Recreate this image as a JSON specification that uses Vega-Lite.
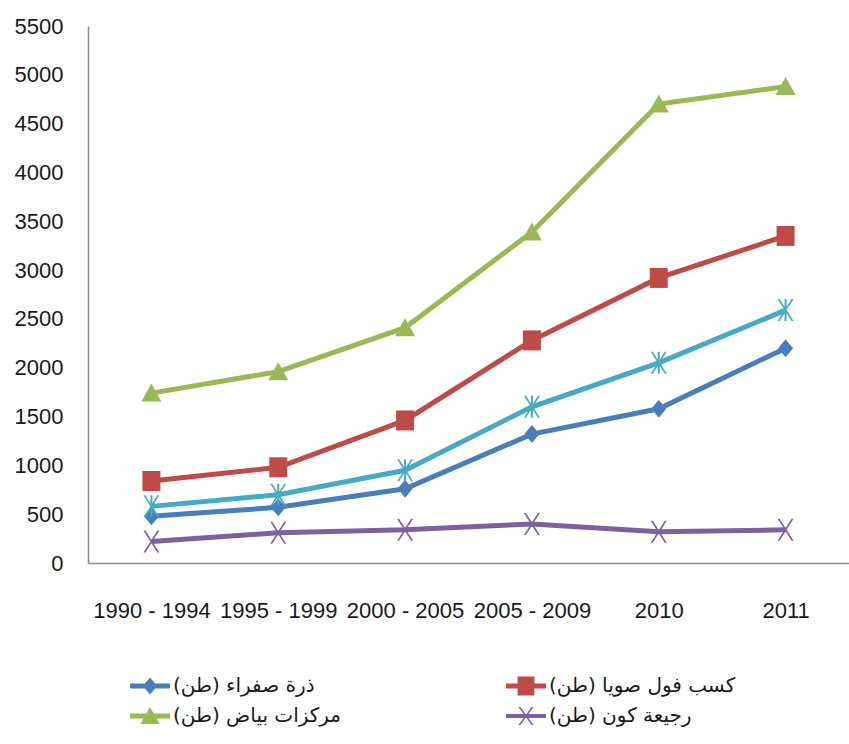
{
  "$schema": "https://vega.github.io/schema/vega-lite/v6.json",
  "width": 761,
  "height": 537,
  "autosize": {"type": "none"},
  "padding": {"left": 88, "top": 26, "right": 0, "bottom": 181},
  "background": "white",
  "config": {"view": {"stroke": null}, "font": "Liberation Sans Narrow, Liberation Sans, sans-serif"},
  "data": {
    "values": [
      {"period": "1990 - 1994", "series": "ذرة صفراء (طن)", "value": 480},
      {"period": "1995 - 1999", "series": "ذرة صفراء (طن)", "value": 570},
      {"period": "2000 - 2005", "series": "ذرة صفراء (طن)", "value": 760},
      {"period": "2005 - 2009", "series": "ذرة صفراء (طن)", "value": 1320},
      {"period": "2010", "series": "ذرة صفراء (طن)", "value": 1580},
      {"period": "2011", "series": "ذرة صفراء (طن)", "value": 2200},
      {"period": "1990 - 1994", "series": "كسب فول صويا (طن)", "value": 840},
      {"period": "1995 - 1999", "series": "كسب فول صويا (طن)", "value": 980},
      {"period": "2000 - 2005", "series": "كسب فول صويا (طن)", "value": 1460},
      {"period": "2005 - 2009", "series": "كسب فول صويا (طن)", "value": 2280},
      {"period": "2010", "series": "كسب فول صويا (طن)", "value": 2920},
      {"period": "2011", "series": "كسب فول صويا (طن)", "value": 3350},
      {"period": "1990 - 1994", "series": "مركزات بياض (طن)", "value": 1740},
      {"period": "1995 - 1999", "series": "مركزات بياض (طن)", "value": 1960},
      {"period": "2000 - 2005", "series": "مركزات بياض (طن)", "value": 2410},
      {"period": "2005 - 2009", "series": "مركزات بياض (طن)", "value": 3390},
      {"period": "2010", "series": "مركزات بياض (طن)", "value": 4700},
      {"period": "2011", "series": "مركزات بياض (طن)", "value": 4880},
      {"period": "1990 - 1994", "series": "رجيعة كون (طن)", "value": 220},
      {"period": "1995 - 1999", "series": "رجيعة كون (طن)", "value": 310},
      {"period": "2000 - 2005", "series": "رجيعة كون (طن)", "value": 340},
      {"period": "2005 - 2009", "series": "رجيعة كون (طن)", "value": 400},
      {"period": "2010", "series": "رجيعة كون (طن)", "value": 320},
      {"period": "2011", "series": "رجيعة كون (طن)", "value": 340},
      {"period": "1990 - 1994", "series": "السلسلة 5", "value": 580},
      {"period": "1995 - 1999", "series": "السلسلة 5", "value": 700},
      {"period": "2000 - 2005", "series": "السلسلة 5", "value": 950},
      {"period": "2005 - 2009", "series": "السلسلة 5", "value": 1600},
      {"period": "2010", "series": "السلسلة 5", "value": 2050},
      {"period": "2011", "series": "السلسلة 5", "value": 2590}
    ]
  },
  "encoding": {
    "x": {
      "field": "period",
      "type": "nominal",
      "sort": ["1990 - 1994", "1995 - 1999", "2000 - 2005", "2005 - 2009", "2010", "2011"],
      "scale": {"type": "point", "padding": 0.5},
      "axis": {
        "title": null,
        "ticks": false,
        "labelAngle": 0,
        "labelPadding": 37,
        "labelFontSize": 22,
        "labelColor": "#1a1a1a",
        "domainColor": "#8a8a8a",
        "domainWidth": 1.5,
        "grid": false
      }
    },
    "y": {
      "field": "value",
      "type": "quantitative",
      "scale": {"domain": [0, 5500], "nice": false},
      "axis": {
        "title": null,
        "values": [0, 500, 1000, 1500, 2000, 2500, 3000, 3500, 4000, 4500, 5000, 5500],
        "format": "d",
        "ticks": false,
        "labelPadding": 25,
        "labelFontSize": 22,
        "labelColor": "#1a1a1a",
        "domainColor": "#8a8a8a",
        "domainWidth": 1.5,
        "grid": false
      }
    },
    "color": {
      "field": "series",
      "type": "nominal",
      "scale": {
        "domain": ["ذرة صفراء (طن)", "كسب فول صويا (طن)", "مركزات بياض (طن)", "رجيعة كون (طن)", "السلسلة 5"],
        "range": ["#4a7ebb", "#be4b48", "#98b954", "#7d60a0", "#46aac5"]
      },
      "legend": {
        "orient": "none",
        "legendX": 42,
        "legendY": 640,
        "title": null,
        "columns": 2,
        "values": ["ذرة صفراء (طن)", "مركزات بياض (طن)", "كسب فول صويا (طن)", "رجيعة كون (طن)"],
        "symbolType": "circle",
        "symbolSize": 1600,
        "symbolStrokeWidth": 0,
        "symbolOpacity": 1,
        "labelFont": "DejaVu Sans",
        "labelFontSize": 20,
        "labelColor": "#1a1a1a",
        "labelOffset": 3,
        "labelLimit": 400,
        "columnPadding": 164,
        "rowPadding": -8,
        "encode": {
          "symbols": {
            "update": {
              "shape": {"signal": "['M-1,-0.12H1V0.12H-1Z M0,-0.42L0.36,0L0,0.42L-0.36,0Z', 'M-1,-0.12H1V0.12H-1Z M-0.42,-0.48H0.42V0.48H-0.42Z', 'M-1,-0.12H1V0.12H-1Z M0,-0.45L0.48,0.4H-0.48Z', 'M-1,-0.1H1V0.1H-1Z M-0.38,-0.45L-0.28,-0.45L0.38,0.45L0.28,0.45Z M0.28,-0.45L0.38,-0.45L-0.28,0.45L-0.38,0.45Z'][indexof(['ذرة صفراء (طن)', 'كسب فول صويا (طن)', 'مركزات بياض (طن)', 'رجيعة كون (طن)'], datum.value)]"},
              "fill": {"signal": "scale('color', datum.value)"}
            }
          }
        }
      }
    }
  },
  "layer": [
    {
      "mark": {"type": "line", "strokeWidth": 5}
    },
    {
      "transform": [{"filter": {"field": "series", "equal": "ذرة صفراء (طن)"}}],
      "mark": {"type": "point", "filled": true, "size": 400, "opacity": 1, "strokeWidth": 0, "shape": "M0,-0.9L0.75,0L0,0.9L-0.75,0Z"}
    },
    {
      "transform": [{"filter": {"field": "series", "equal": "كسب فول صويا (طن)"}}],
      "mark": {"type": "point", "filled": true, "size": 400, "opacity": 1, "strokeWidth": 0, "shape": "M-0.9,-1H0.9V1H-0.9Z"}
    },
    {
      "transform": [{"filter": {"field": "series", "equal": "مركزات بياض (طن)"}}],
      "mark": {"type": "point", "filled": true, "size": 400, "opacity": 1, "strokeWidth": 0, "shape": "M0,-0.95L1,0.85H-1Z"}
    },
    {
      "transform": [{"filter": {"field": "series", "equal": "رجيعة كون (طن)"}}],
      "mark": {"type": "point", "filled": true, "size": 400, "opacity": 1, "strokeWidth": 0, "shape": "M-0.8,-1.1L-0.6,-1.1L0.8,1.1L0.6,1.1Z M0.6,-1.1L0.8,-1.1L-0.6,1.1L-0.8,1.1Z"}
    },
    {
      "transform": [{"filter": {"field": "series", "equal": "السلسلة 5"}}],
      "mark": {"type": "point", "filled": true, "size": 400, "opacity": 1, "strokeWidth": 0, "shape": "M-0.8,-1.1L-0.6,-1.1L0.8,1.1L0.6,1.1Z M0.6,-1.1L0.8,-1.1L-0.6,1.1L-0.8,1.1Z M-0.1,-1.1H0.1V1.1H-0.1Z"}
    }
  ]
}
